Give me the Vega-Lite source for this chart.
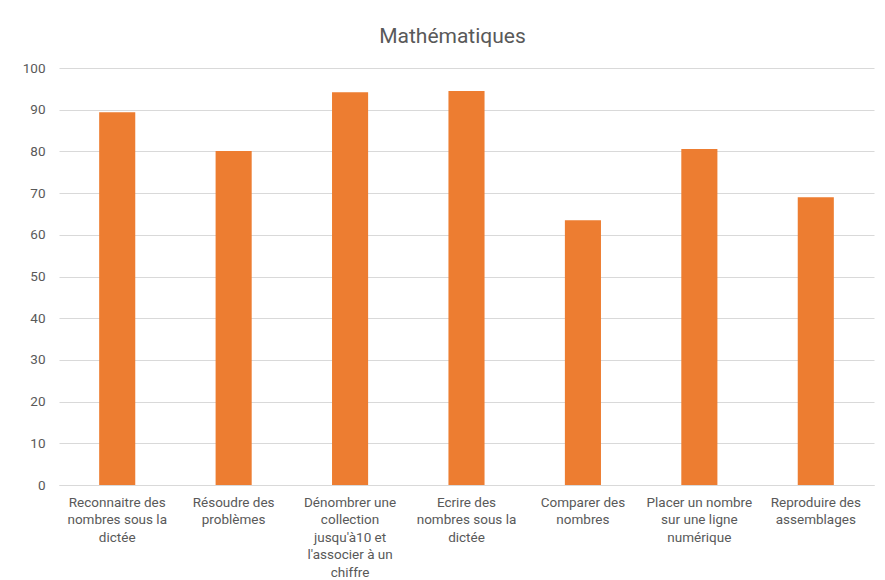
{
  "$schema": "https://vega.github.io/schema/vega-lite/v6.json",
  "autosize": "none",
  "width": 815,
  "height": 417,
  "padding": {"left": 59, "top": 68, "right": 11, "bottom": 95},
  "background": "white",
  "title": {
    "text": "Mathématiques",
    "fontSize": 21,
    "font": "Roboto, sans-serif",
    "fontWeight": "normal",
    "color": "#595959",
    "anchor": "middle",
    "dx": -14,
    "offset": 14
  },
  "data": {
    "values": [
      {"competence": "Reconnaitre des\nnombres sous la\ndictée", "score": 89.4},
      {"competence": "Résoudre des\nproblèmes", "score": 80.1},
      {"competence": "Dénombrer une\ncollection\njusqu'à10 et\nl'associer à un\nchiffre", "score": 94.2},
      {"competence": "Ecrire des\nnombres sous la\ndictée", "score": 94.5},
      {"competence": "Comparer des\nnombres", "score": 63.5},
      {"competence": "Placer un nombre\nsur une ligne\nnumérique", "score": 80.6},
      {"competence": "Reproduire des\nassemblages", "score": 69.0}
    ]
  },
  "mark": {"type": "bar", "color": "#ED7D31"},
  "encoding": {
    "x": {
      "field": "competence",
      "type": "nominal",
      "sort": null,
      "title": null,
      "scale": {"paddingInner": 0.69, "paddingOuter": 0.345},
      "axis": {
        "labelAngle": 0,
        "labelExpr": "split(datum.label, '\\n')",
        "labelFont": "Roboto, sans-serif",
        "labelFontSize": 13.5,
        "labelColor": "#595959",
        "labelLineHeight": 17.5,
        "labelPadding": 10,
        "labelLimit": 200,
        "ticks": false,
        "domainColor": "#D9D9D9",
        "grid": false
      }
    },
    "y": {
      "field": "score",
      "type": "quantitative",
      "title": null,
      "scale": {"domain": [0, 100], "nice": false},
      "axis": {
        "values": [0, 10, 20, 30, 40, 50, 60, 70, 80, 90, 100],
        "labelFont": "Roboto, sans-serif",
        "labelFontSize": 13.5,
        "labelColor": "#595959",
        "labelPadding": 14,
        "ticks": false,
        "domain": false,
        "gridColor": "#D9D9D9",
        "gridWidth": 1
      }
    }
  },
  "config": {"view": {"stroke": null}}
}
